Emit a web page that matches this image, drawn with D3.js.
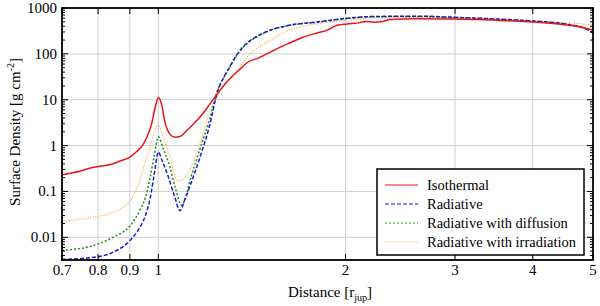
<!DOCTYPE html>
<html><head><meta charset="utf-8">
<script src="https://cdn.jsdelivr.net/npm/d3@7"></script>
<style>body{margin:0;background:#fff}svg{display:block}</style>
</head><body><svg id="c" width="600" height="306"></svg>
<script>
const xTicks = [0.7, 0.8, 0.9, 1, 2, 3, 4, 5];
const xTickLabels = ["0.7", "0.8", "0.9", "1", "2", "3", "4", "5"];
const yTicks = [0.01, 0.1, 1, 10, 100, 1000];
const yTickLabels = ["0.01", "0.1", "1", "10", "100", "1000"];
const seriesNames = ["Isothermal", "Radiative", "Radiative with diffusion", "Radiative with irradiation"];

const isothermal = [[0.70,0.23],[0.75,0.28],[0.78,0.33],[0.806,0.355],[0.84,0.39],[0.868,0.46],[0.90,0.56],[0.924,0.75],[0.945,1.05],[0.96,1.6],[0.975,2.9],[0.99,7.5],[1.0,11.2],[1.012,8],[1.025,3.2],[1.045,1.75],[1.064,1.52],[1.085,1.6],[1.11,2.1],[1.14,3.0],[1.167,4.2],[1.21,8],[1.247,14],[1.28,22],[1.304,29],[1.35,45],[1.389,64],[1.45,82],[1.512,108],[1.57,140],[1.629,175],[1.70,225],[1.80,285],[1.87,330],[1.938,420],[2.011,448],[2.111,480],[2.16,510],[2.22,490],[2.28,500],[2.36,560],[2.6,585],[3.0,575],[3.5,540],[4.0,495],[4.4,445],[4.7,400],[5.0,330]];
const radiative = [[0.70,0.0033],[0.78,0.0036],[0.845,0.0047],[0.901,0.0086],[0.934,0.0165],[0.955,0.032],[0.970,0.07],[0.985,0.24],[1.0,0.72],[1.015,0.45],[1.035,0.23],[1.06,0.085],[1.084,0.038],[1.10,0.06],[1.124,0.13],[1.167,0.56],[1.208,2.6],[1.247,16],[1.27,28],[1.30,50],[1.34,100],[1.38,160],[1.42,215],[1.46,265],[1.50,315],[1.63,425],[1.80,495],[2.01,600],[2.2,650],[2.6,665],[3.0,625],[3.5,575],[4.0,520],[4.4,470],[4.63,420],[4.85,360],[5.0,285]];
const diffusion = [[0.70,0.0052],[0.78,0.0064],[0.845,0.01],[0.901,0.018],[0.934,0.039],[0.955,0.08],[0.970,0.2],[0.985,0.6],[1.0,1.55],[1.02,0.8],[1.044,0.34],[1.065,0.12],[1.09,0.05],[1.105,0.07],[1.124,0.17],[1.167,0.85],[1.208,3.6],[1.247,17],[1.27,28],[1.30,49],[1.34,97],[1.38,155],[1.42,210],[1.46,260],[1.50,310],[1.63,420],[1.80,490],[2.01,590],[2.2,640],[2.6,655],[3.0,620],[3.5,570],[4.0,515],[4.4,470],[4.63,425],[4.85,370],[5.0,300]];
const irradiation = [[0.70,0.0223],[0.78,0.027],[0.845,0.035],[0.901,0.064],[0.934,0.176],[0.955,0.5],[0.970,0.92],[0.985,1.9],[1.0,2.85],[1.02,1.4],[1.044,0.56],[1.06,0.25],[1.075,0.167],[1.095,0.18],[1.124,0.3],[1.167,1.13],[1.208,5.1],[1.247,12.6],[1.30,27],[1.34,44],[1.40,95],[1.45,140],[1.512,195],[1.57,265],[1.63,330],[1.80,450],[2.01,545],[2.2,600],[2.6,620],[3.0,600],[3.5,560],[4.0,510],[4.4,480],[4.63,465],[4.85,445],[5.0,425]];

const seriesData = [isothermal, radiative, diffusion, irradiation];
const colors = ["#e8141b", "#1a1acc", "#1f8a1f", "#f5a030"];
const dashes = [null, "4,2", "2,2", "1,1.4"];
const widths = [1.5, 1.5, 1.5, 1.1];
const FONT = '"Liberation Serif", "Times New Roman", Times, "DejaVu Serif", serif';

const svg = d3.select("#c");
const L = 62, R = 593, T = 8, B = 260;
const x = d3.scaleLog().domain([0.7, 5]).range([L, R]);
const y = d3.scaleLog().domain([0.0032, 1000]).range([B, T]);

// grid
const gx = [0.8, 0.9, 1, 2, 3, 4];
svg.append("g").selectAll("line").data(gx).join("line")
  .attr("x1", d => x(d)).attr("x2", d => x(d)).attr("y1", T).attr("y2", B)
  .attr("stroke", "#cfcfcf").attr("stroke-width", 1);
svg.append("g").selectAll("line").data(yTicks.slice(0, 5)).join("line")
  .attr("y1", d => y(d)).attr("y2", d => y(d)).attr("x1", L).attr("x2", R)
  .attr("stroke", "#cfcfcf").attr("stroke-width", 1);

// curves
svg.append("clipPath").attr("id", "cp").append("rect")
  .attr("x", L).attr("y", T).attr("width", R - L).attr("height", B - T);
const line = d3.line().x(d => x(d[0])).y(d => y(d[1])).curve(d3.curveMonotoneX);
[3, 2, 1, 0].forEach(i => {
  const data = seriesData[i].slice().sort((a, b) => a[0] - b[0]);
  svg.append("path").attr("d", line(data)).attr("fill", "none")
    .attr("clip-path", "url(#cp)")
    .attr("stroke", colors[i]).attr("stroke-width", widths[i])
    .attr("stroke-dasharray", dashes[i]);
});

// ticks
const minors = [];
for (let e = -3; e < 3; e++) for (let m = 2; m <= 9; m++) {
  const v = m * Math.pow(10, e);
  if (v > 0.0032 && v < 1000) minors.push(v);
}
const tk = svg.append("g").attr("stroke", "#000").attr("stroke-width", 1);
yTicks.forEach(v => {
  tk.append("line").attr("x1", L).attr("x2", L + 6).attr("y1", y(v)).attr("y2", y(v));
  tk.append("line").attr("x1", R).attr("x2", R - 6).attr("y1", y(v)).attr("y2", y(v));
});
minors.forEach(v => {
  tk.append("line").attr("x1", L).attr("x2", L + 3).attr("y1", y(v)).attr("y2", y(v));
  tk.append("line").attr("x1", R).attr("x2", R - 3).attr("y1", y(v)).attr("y2", y(v));
});
xTicks.forEach(v => {
  tk.append("line").attr("y1", B).attr("y2", B - 6).attr("x1", x(v)).attr("x2", x(v));
  tk.append("line").attr("y1", T).attr("y2", T + 6).attr("x1", x(v)).attr("x2", x(v));
});

// frame
svg.append("rect").attr("x", L).attr("y", T).attr("width", R - L).attr("height", B - T)
  .attr("fill", "none").attr("stroke", "#000").attr("stroke-width", 1.8);

// tick labels
svg.append("g").selectAll("text").data(xTicks).join("text")
  .style("font-family", FONT)
  .attr("x", d => x(d)).attr("y", B + 15).attr("text-anchor", "middle")
  .attr("font-size", 15).text((d, i) => xTickLabels[i]);
svg.append("g").selectAll("text").data(yTicks).join("text")
  .style("font-family", FONT)
  .attr("x", L - 5).attr("y", d => y(d) + 5).attr("text-anchor", "end")
  .attr("font-size", 15).text((d, i) => yTickLabels[i]);

// axis labels
const xl = svg.append("text").style("font-family", FONT).attr("x", 330).attr("y", 297).attr("text-anchor", "middle").attr("font-size", 15);
xl.append("tspan").text("Distance [r");
xl.append("tspan").attr("font-size", 10).attr("dy", 4).text("jup");
xl.append("tspan").attr("dy", -4).text("]");
const yl = svg.append("text").style("font-family", FONT).attr("transform", "translate(20,132) rotate(-90)").attr("text-anchor", "middle").attr("font-size", 15);
yl.append("tspan").text("Surface Density [g cm");
yl.append("tspan").attr("font-size", 10).attr("dy", -6).text("-2");
yl.append("tspan").attr("dy", 6).text("]");

// legend
const lg = svg.append("g");
lg.append("rect").attr("x", 377).attr("y", 169).attr("width", 207).attr("height", 86)
  .attr("fill", "#fff").attr("stroke", "#000").attr("stroke-width", 1.5);
seriesNames.forEach((n, i) => {
  const yy = 185 + i * 19;
  lg.append("line").attr("x1", 385).attr("x2", 418).attr("y1", yy).attr("y2", yy)
    .attr("stroke", colors[i]).attr("stroke-width", widths[i] * 0.8).attr("stroke-dasharray", dashes[i]);
  lg.append("text").style("font-family", FONT).attr("x", 427).attr("y", yy + 5).attr("font-size", 14.5).text(n);
});
</script></body></html>
